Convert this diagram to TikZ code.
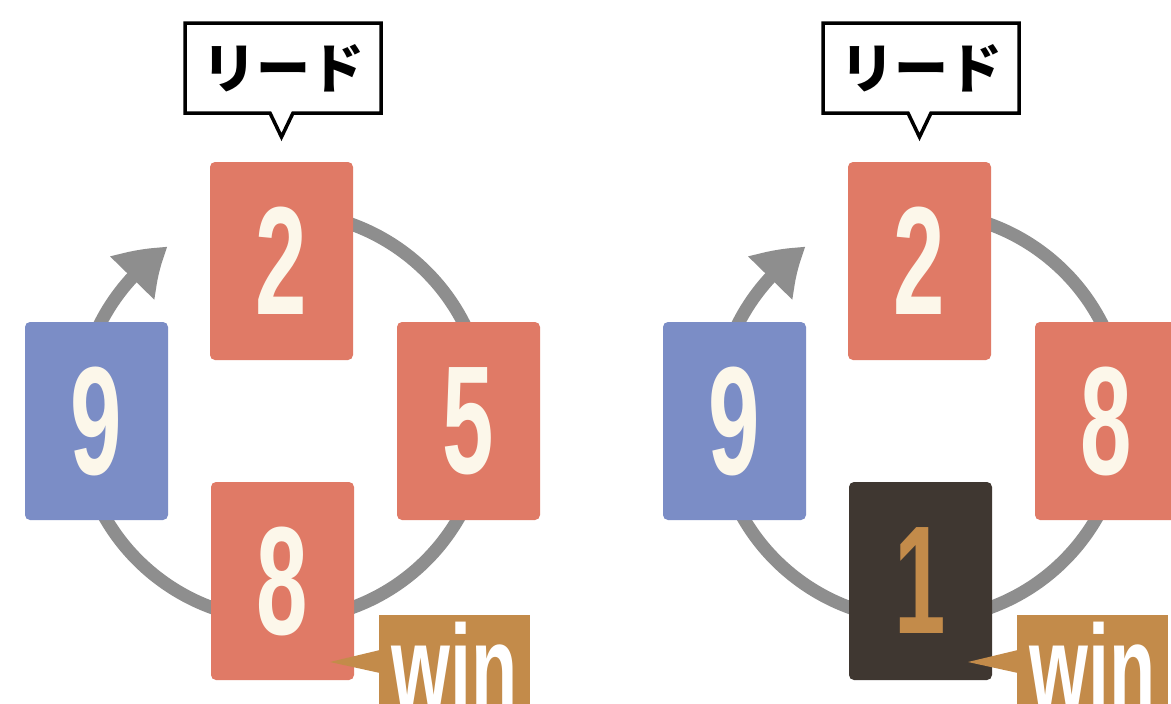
\documentclass[tikz,border=0pt]{standalone}
\usepackage{fontspec}
\setmainfont{Liberation Sans}
\newfontfamily\cjkfont{Noto Sans CJK JP}
\usetikzlibrary{arrows.meta,bending,calc}
\definecolor{cred}{HTML}{E07A66}
\definecolor{cblue}{HTML}{7B8DC6}
\definecolor{cdark}{HTML}{3F3731}
\definecolor{cgold}{HTML}{C38B4A}
\definecolor{cream}{HTML}{FCF7EA}
\definecolor{cgray}{HTML}{8E8E8E}
\newcommand\bigdig[1]{\scalebox{0.6}[1]{\fontsize{154}{154}\selectfont\bfseries #1}}
\newcommand\wintext{\scalebox{0.62}[1]{\fontsize{122}{122}\selectfont\bfseries win}}
\tikzset{
  card/.style={rectangle, rounded corners=5pt, minimum width=143pt, minimum height=198pt, inner sep=0pt, text=cream},
  arcline/.style={draw=cgray, line width=13pt, -{Triangle[length=48pt,width=58pt,bend]}},
  bubble/.style={draw=black, fill=white, line width=3.5pt, line join=miter},
  winbox/.style={fill=cgold},
}
\newcommand\onediagram[5]{%
  % #1 prefix, #2 right card colour, #3 right digit, #4 bottom card colour, #5 bottom digit
  \coordinate (#1C) at (282,416);
  \draw[arcline] ($(#1C)+(260:204)$) arc[start angle=260, end angle=596, radius=204];
  \node[card, fill=cred] (#1two) at (281.5,261) {\bigdig{2}};
  \node[card, fill=cblue] (#1nine) at (96.5,421) {\bigdig{9}};
  \node[card, fill=#2] (#1right) at (468.5,421) {\bigdig{#3}};
  \node[card, fill=#4] (#1bottom) at (282.5,581) {#5};
  \path[bubble] (185,23) -- (381,23) -- (381,113) -- (293,113) -- (281.5,137) -- (270,113) -- (185,113) -- cycle;
  \node (#1lead) at (283,68) {\cjkfont\bfseries\fontsize{54}{54}\selectfont リード};
  \fill[winbox] (379,615) rectangle (530,780);
  \coordinate (#1tip) at (330,662);
  \fill[winbox] (#1tip) -- (380,650) -- (380,673) -- cycle;
  \node[anchor=base, text=white, inner sep=0pt] (#1win) at (454.5,710) {\wintext};
}
\begin{document}
\begin{tikzpicture}[x=1pt,y=-1pt]
\useasboundingbox (0,0) rectangle (1171,704);
\clip (0,0) rectangle (1171,704);
\fill[white] (0,0) rectangle (1171,704);
\begin{scope}
\onediagram{L}{cred}{5}{cred}{\bigdig{8}}
\end{scope}
\begin{scope}[xshift=638pt]
\onediagram{R}{cred}{8}{cdark}{\textcolor{cgold}{\bigdig{1}}}
\end{scope}
\end{tikzpicture}
\end{document}
